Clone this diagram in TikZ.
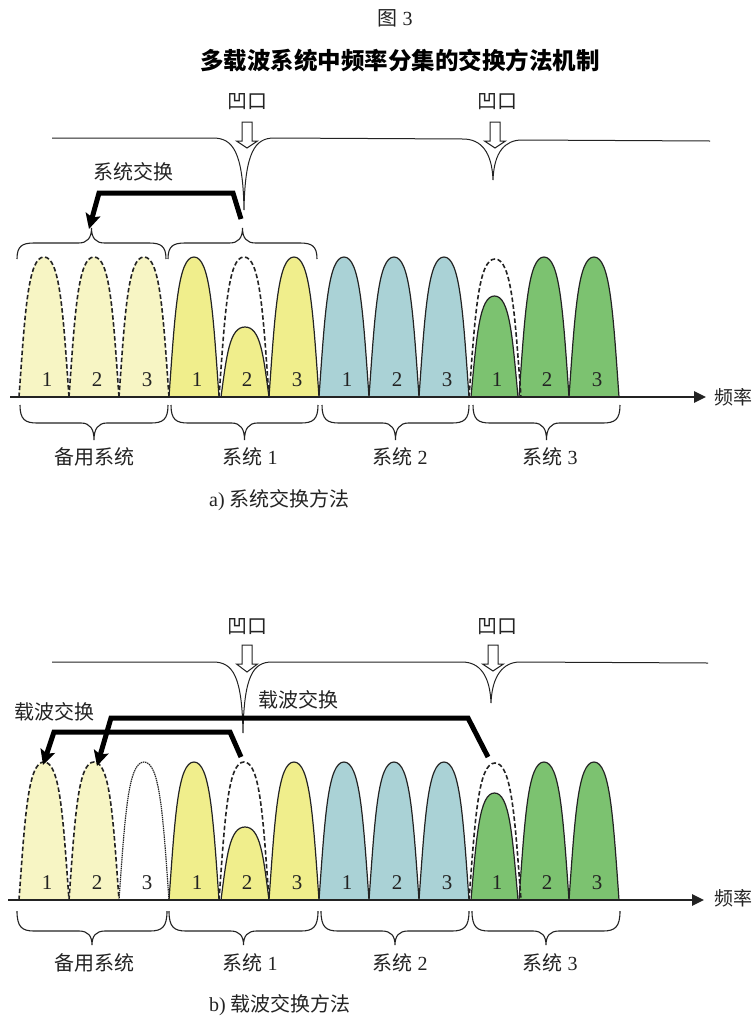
\documentclass[tikz,border=0pt]{standalone}
\usepackage{fontspec}
\setmainfont{Liberation Serif}
\newfontfamily\cjk{Noto Sans CJK SC}
\usetikzlibrary{arrows.meta}
\definecolor{cBak}{RGB}{247,245,196}
\definecolor{cSa}{RGB}{240,238,140}
\definecolor{cSb}{RGB}{170,210,214}
\definecolor{cSc}{RGB}{124,194,112}
\definecolor{ink}{RGB}{35,35,35}
\tikzset{
  lbl/.style={font=\fontsize{20}{24}\selectfont, text=ink, inner sep=0pt},
  numlbl/.style={font=\fontsize{21}{24}\selectfont, text=ink, inner sep=0pt},
  solidarch/.style={draw=ink, line width=1.2pt},
  dasharch/.style={draw=ink, line width=1.6pt, dash pattern=on 4.5pt off 2.5pt},
  dotarch/.style={draw=ink, line width=1.2pt, dash pattern=on 1.4pt off 0.8pt},
  bracestyle/.style={draw=ink, line width=1.1pt},
  notchline/.style={draw=ink, line width=1pt},
  hollowarrow/.style={draw=ink, line width=1pt, fill=white},
  thickarrow/.style={draw=black, line width=5pt, -{Stealth[length=15pt,width=15pt,inset=3pt]}},
  axisline/.style={draw=ink, line width=2.6pt, -{Triangle[length=12pt,width=11pt]}}
}
% lobe path: x0, base, height, width
\newcommand\lobepath[4]{(#1,#2) .. controls ({#1+0.12*#4},{#2-0.607*#3}) and ({#1+0.18*#4},{#2-#3}) .. ({#1+0.5*#4},{#2-#3})
  .. controls ({#1+0.82*#4},{#2-#3}) and ({#1+0.88*#4},{#2-0.607*#3}) .. ({#1+#4},#2)}
\newcommand\lobefill[5]{\fill[#1] (#2,#3) .. controls ({#2+0.12*#5},{#3-0.607*#4}) and ({#2+0.18*#5},{#3-#4}) .. ({#2+0.5*#5},{#3-#4})
  .. controls ({#2+0.82*#5},{#3-#4}) and ({#2+0.88*#5},{#3-0.607*#4}) .. ({#2+#5},#3) -- cycle;}
\newcommand\lobearch[5]{\draw[#1] (#2,#3) .. controls ({#2+0.12*#5},{#3-0.607*#4}) and ({#2+0.18*#5},{#3-#4}) .. ({#2+0.5*#5},{#3-#4})
  .. controls ({#2+0.82*#5},{#3-#4}) and ({#2+0.88*#5},{#3-0.607*#4}) .. ({#2+#5},#3);}
% brace: x1, x2, yend, ymid, ytip
\newcommand\cbrace[5]{%
 \draw[bracestyle] (#1,#3) .. controls (#1,{#3+0.8*(#4-#3)}) and ({#1+5},#4) .. ({#1+17},#4)
   -- ({(#1+#2)/2-13},#4) .. controls ({(#1+#2)/2-4},#4) and ({(#1+#2)/2},{#4+0.35*(#5-#4)}) .. ({(#1+#2)/2},#5)
   .. controls ({(#1+#2)/2},{#4+0.35*(#5-#4)}) and ({(#1+#2)/2+4},#4) .. ({(#1+#2)/2+13},#4)
   -- ({#2-17},#4) .. controls ({#2-5},#4) and (#2,{#3+0.8*(#4-#3)}) .. (#2,#3);}
% hollow arrow: xc, ytop, yheadbase, ytip
\newcommand\hollow[4]{\draw[hollowarrow] ({#1-5},#2) -- ({#1+5},#2) -- ({#1+5},#3) -- ({#1+10.5},#3) -- (#1,#4) -- ({#1-10.5},#3) -- ({#1-5},#3) -- cycle;}
\begin{document}
\begin{tikzpicture}[x=1pt,y=-1pt]
\useasboundingbox (0,0) rectangle (753,1018);
\fill[white] (0,0) rectangle (753,1018);

% ---------- titles ----------
\node[lbl] (fig) at (395,18) {{\cjk 图} 3};
\node[lbl, font=\fontsize{23.5}{26}\selectfont\bfseries, text=black] (title) at (400,60) {\cjk 多载波系统中频率分集的交换方法机制};

% ================= PANEL A =================
\draw[notchline] (52,138) -- (213,138) .. controls (233,138) and (243,152) .. (244,210)
   .. controls (245,152) and (255,138) .. (274,138) -- (463,139)
   .. controls (481,139) and (492,152) .. (493,180)
   .. controls (494,152) and (505,140) .. (522,140) -- (710,141);
\hollow{247}{122}{141}{148}
\hollow{495}{122}{141}{148}
\node[lbl] (nA1) at (247,102) {\cjk 凹口};
\node[lbl] (nA2) at (497,102) {\cjk 凹口};
\node[lbl] (swA) at (133,172) {\cjk 系统交换};

\cbrace{17}{166}{259}{243}{228}
\cbrace{168}{317}{259}{243}{228}

\lobefill{cBak}{19}{397}{140}{50}
\lobefill{cBak}{69}{397}{140}{50}
\lobefill{cBak}{119}{397}{140}{50}
\lobefill{cSa}{169}{397}{140}{50}
\lobefill{cSa}{269}{397}{140}{50}
\lobefill{cSb}{319}{397}{140}{50}
\lobefill{cSb}{369}{397}{140}{50}
\lobefill{cSb}{419}{397}{140}{50}
\lobefill{cSc}{519}{397}{140}{50}
\lobefill{cSc}{569}{397}{140}{50}
\lobearch{dasharch}{19}{397}{140}{50}
\lobearch{dasharch}{69}{397}{140}{50}
\lobearch{dasharch}{119}{397}{140}{50}
\lobearch{dasharch}{219}{397}{140}{50}
\lobearch{dasharch}{469}{397}{138}{52}
\lobefill{cSa}{221}{397}{70}{48}
\lobearch{solidarch}{221}{397}{70}{48}
\lobefill{cSc}{471}{397}{101}{47}
\lobearch{solidarch}{471}{397}{101}{47}
\lobearch{solidarch}{169}{397}{140}{50}
\lobearch{solidarch}{269}{397}{140}{50}
\lobearch{solidarch}{319}{397}{140}{50}
\lobearch{solidarch}{369}{397}{140}{50}
\lobearch{solidarch}{419}{397}{140}{50}
\lobearch{solidarch}{519}{397}{140}{50}
\lobearch{solidarch}{569}{397}{140}{50}
\foreach \g/\n in {0/a0,1/a1,2/a2,3/a3}{
  \foreach \k in {1,2,3}{
    \node[numlbl] (\n\k) at ({19+150*\g+50*(\k-1)+28},380) {\k};
  }
}
\coordinate (axA0) at (10,397);
\coordinate (axA1) at (706,397);
\draw[axisline] (axA0) -- (axA1);
\node[lbl, font=\fontsize{19}{22}\selectfont] (fA) at (733,397) {\cjk 频率};

\coordinate (tA0) at (241,219);
\coordinate (tA1) at (233,193);
\coordinate (tA2) at (99,193);
\coordinate (tA3) at (89,229);
\draw[thickarrow] (tA0) -- (tA1) -- (tA2) -- (tA3);

\cbrace{20}{168}{405}{423}{440}
\cbrace{171}{318}{405}{423}{440}
\cbrace{322}{469}{405}{423}{440}
\cbrace{473}{620}{405}{423}{440}
\node[lbl] (gA0) at (94,457) {\cjk 备用系统};
\node[lbl] (gA1) at (250,457) {{\cjk 系统} 1};
\node[lbl] (gA2) at (400,457) {{\cjk 系统} 2};
\node[lbl] (gA3) at (550,457) {{\cjk 系统} 3};
\node[lbl, anchor=west] (capA) at (209,500) {a) {\cjk 系统交换方法}};

% ================= PANEL B =================
\draw[notchline] (52,662) -- (213,662) .. controls (233,662) and (242,676) .. (243,733)
   .. controls (244,676) and (253,662) .. (272,662) -- (462,662)
   .. controls (480,662) and (490,676) .. (491,703)
   .. controls (492,676) and (503,662) .. (520,662) -- (708,663);
\hollow{247}{645}{664}{672}
\hollow{493}{645}{664}{671}
\node[lbl] (nB1) at (247,627) {\cjk 凹口};
\node[lbl] (nB2) at (497,627) {\cjk 凹口};
\node[lbl] (swB1) at (298,700) {\cjk 载波交换};
\node[lbl] (swB2) at (55,712) {\cjk 载波交换};

\lobefill{cBak}{19}{900}{138}{50}
\lobefill{cBak}{69}{900}{138}{50}
\lobefill{white}{119}{900}{138}{50}
\lobefill{cSa}{169}{900}{138}{50}
\lobefill{cSa}{269}{900}{138}{50}
\lobefill{cSb}{319}{900}{138}{50}
\lobefill{cSb}{369}{900}{138}{50}
\lobefill{cSb}{419}{900}{138}{50}
\lobefill{cSc}{519}{900}{138}{50}
\lobefill{cSc}{569}{900}{138}{50}
\lobearch{dasharch}{19}{900}{138}{50}
\lobearch{dasharch}{69}{900}{138}{50}
\lobearch{dotarch}{119}{900}{138}{50}
\lobearch{dasharch}{219}{900}{138}{50}
\lobearch{dasharch}{469}{900}{137}{52}
\lobefill{cSa}{221}{900}{73}{48}
\lobearch{solidarch}{221}{900}{73}{48}
\lobefill{cSc}{471}{900}{107}{47}
\lobearch{solidarch}{471}{900}{107}{47}
\lobearch{solidarch}{169}{900}{138}{50}
\lobearch{solidarch}{269}{900}{138}{50}
\lobearch{solidarch}{319}{900}{138}{50}
\lobearch{solidarch}{369}{900}{138}{50}
\lobearch{solidarch}{419}{900}{138}{50}
\lobearch{solidarch}{519}{900}{138}{50}
\lobearch{solidarch}{569}{900}{138}{50}
\foreach \g/\n in {0/b0,1/b1,2/b2,3/b3}{
  \foreach \k in {1,2,3}{
    \node[numlbl] (\n\k) at ({19+150*\g+50*(\k-1)+28},883) {\k};
  }
}
\coordinate (axB0) at (8,900);
\coordinate (axB1) at (704,900);
\draw[axisline] (axB0) -- (axB1);
\node[lbl, font=\fontsize{19}{22}\selectfont] (fB) at (733,898) {\cjk 频率};

\coordinate (uB0) at (488,757);
\coordinate (uB1) at (468,718);
\coordinate (uB2) at (111,718);
\coordinate (uB3) at (97,766);
\draw[thickarrow] (uB0) -- (uB1) -- (uB2) -- (uB3);
\coordinate (lB0) at (241,757);
\coordinate (lB1) at (230,732);
\coordinate (lB2) at (54,732);
\coordinate (lB3) at (43,765);
\draw[thickarrow] (lB0) -- (lB1) -- (lB2) -- (lB3);

\cbrace{17}{167}{911}{931}{945}
\cbrace{169}{318}{911}{931}{945}
\cbrace{321}{469}{911}{931}{945}
\cbrace{472}{620}{911}{931}{945}
\node[lbl] (gB0) at (94,963) {\cjk 备用系统};
\node[lbl] (gB1) at (250,963) {{\cjk 系统} 1};
\node[lbl] (gB2) at (400,963) {{\cjk 系统} 2};
\node[lbl] (gB3) at (550,963) {{\cjk 系统} 3};
\node[lbl, anchor=west] (capB) at (209,1005) {b) {\cjk 载波交换方法}};
\end{tikzpicture}
\end{document}
